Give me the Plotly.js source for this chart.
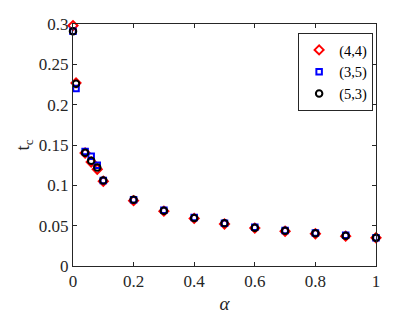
<!DOCTYPE html>
<html>
<head>
<meta charset="utf-8">
<script src="https://cdn.plot.ly/plotly-3.0.1.min.js"></script>
<style>
  body { margin: 0; background: #fff; }
  #chart { width: 415px; height: 316px; }
</style>
</head>
<body>
<div id="chart"></div>
<script>
// alpha values and critical t for each (m,n) pair
const alpha = [0, 0.01, 0.04, 0.06, 0.08, 0.1, 0.2, 0.3, 0.4, 0.5, 0.6, 0.7, 0.8, 0.9, 1.0];
const tc44 = [0.298, 0.227, 0.140, 0.129, 0.120, 0.105, 0.081, 0.068, 0.059, 0.052, 0.047, 0.043, 0.040, 0.037, 0.035];
const tc35 = [0.291, 0.220, 0.142, 0.136, 0.125, 0.106, 0.082, 0.069, 0.060, 0.053, 0.048, 0.044, 0.041, 0.038, 0.035];
const tc53 = [0.291, 0.226, 0.1405, 0.1305, 0.122, 0.106, 0.082, 0.0686, 0.0595, 0.053, 0.0475, 0.0438, 0.0405, 0.0376, 0.0351];

const seriesNames = ['(4,4)', '(3,5)', '(5,3)'];
const axisColor = '#262626';
const font = '"Liberation Serif", "Times New Roman", serif';

const traces = [
    {
        x: alpha, y: tc44, name: seriesNames[0], mode: 'markers', type: 'scatter',
        cliponaxis: false,
        marker: { symbol: 'diamond-open', size: 7, color: 'red', line: { width: 2, color: 'red' } }
    },
    {
        x: alpha, y: tc35, name: seriesNames[1], mode: 'markers', type: 'scatter',
        cliponaxis: false,
        marker: { symbol: 'square-open', size: 5.5, color: 'blue', line: { width: 2, color: 'blue' } }
    },
    {
        x: alpha, y: tc53, name: seriesNames[2], mode: 'markers', type: 'scatter',
        cliponaxis: false,
        marker: { symbol: 'circle-open', size: 6.5, color: 'black', line: { width: 2, color: 'black' } }
    }
];

const layout = {
    width: 415,
    height: 316,
    margin: { l: 73, r: 39, t: 24, b: 50 },
    paper_bgcolor: 'white',
    plot_bgcolor: 'white',
    font: { family: font, size: 17, color: axisColor },
    showlegend: true,
    legend: {
        x: 0.743, y: 0.963, xanchor: 'left', yanchor: 'top',
        bordercolor: axisColor, borderwidth: 1, bgcolor: 'white',
        font: { family: font, size: 14.5, color: 'black' },
        itemwidth: 30,
        tracegroupgap: 0
    },
    xaxis: {
        range: [0, 1],
        tickvals: [0, 0.2, 0.4, 0.6, 0.8, 1],
        ticktext: ['0', '0.2', '0.4', '0.6', '0.8', '1'],
        ticks: 'inside', ticklen: 4, tickcolor: axisColor,
        showline: true, linecolor: axisColor, linewidth: 1, mirror: 'ticks',
        showgrid: false, zeroline: false,
        title: { text: '<i>α</i>', font: { family: font, size: 19, color: axisColor }, standoff: 6 }
    },
    yaxis: {
        range: [0, 0.3],
        tickvals: [0, 0.05, 0.1, 0.15, 0.2, 0.25, 0.3],
        ticktext: ['0', '0.05', '0.1', '0.15', '0.2', '0.25', '0.3'],
        ticks: 'inside', ticklen: 4, tickcolor: axisColor,
        showline: true, linecolor: axisColor, linewidth: 1, mirror: 'ticks',
        showgrid: false, zeroline: false,
        title: { text: 't<sub>c</sub>', font: { family: font, size: 19, color: axisColor }, standoff: 4 }
    }
};

Plotly.newPlot('chart', traces, layout, { displayModeBar: false, staticPlot: true });
</script>
</body>
</html>
